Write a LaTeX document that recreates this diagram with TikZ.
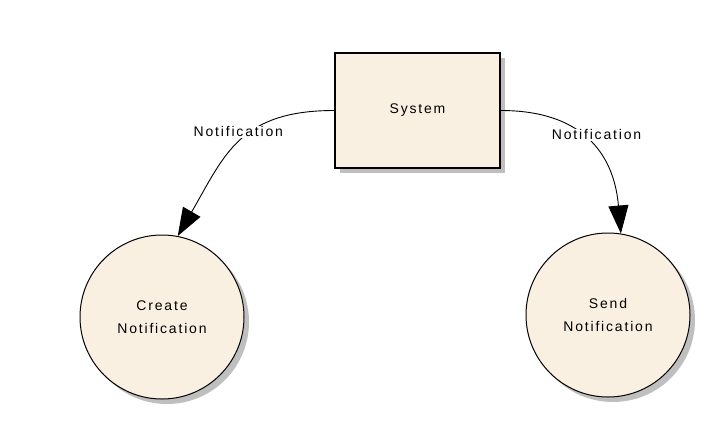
\documentclass[tikz,border=0pt]{standalone}
\usepackage{fontspec}
\setmainfont{Liberation Sans}[LetterSpace=13]
\usetikzlibrary{arrows.meta,shadows}
\definecolor{beige}{RGB}{250,240,226}
\begin{document}
\begin{tikzpicture}[x=1pt,y=-1pt,
		every node/.style={font=\fontsize{14}{23}\selectfont},
		shade/.style={drop shadow={shadow xshift=5pt,shadow yshift=-5pt,fill=black!25,opacity=1}},
		proc/.style={draw,line width=1.6pt,fill=beige,shade,minimum width=165pt,minimum height=115pt},
		bubble/.style={draw,circle,line width=1pt,fill=beige,shade,minimum size=164pt,align=center},
		flow/.style={line width=0.9pt,-{Triangle[length=28pt,width=20pt]}},
		lab/.style={fill=white,inner sep=1pt}]
		\useasboundingbox (0,0) rectangle (726,432);
		\node [proc] at (417.5,110.5) (sys) {System};
		\node [bubble] at (162,317) (create) {Create\\Notification};
		\node [bubble] at (608,315) (send) {Send\\Notification};
		\draw [flow] (sys.west) to [out=180,in=60,looseness=1.2] node [lab,pos=0.5,yshift=11pt] {Notification} (create.79) ;
		\draw [flow] (sys.east) to [out=0,in=95,looseness=1.2] node [lab,pos=0.5,xshift=8pt,yshift=7pt] {Notification} (send.81);
\end{tikzpicture}
\end{document}
